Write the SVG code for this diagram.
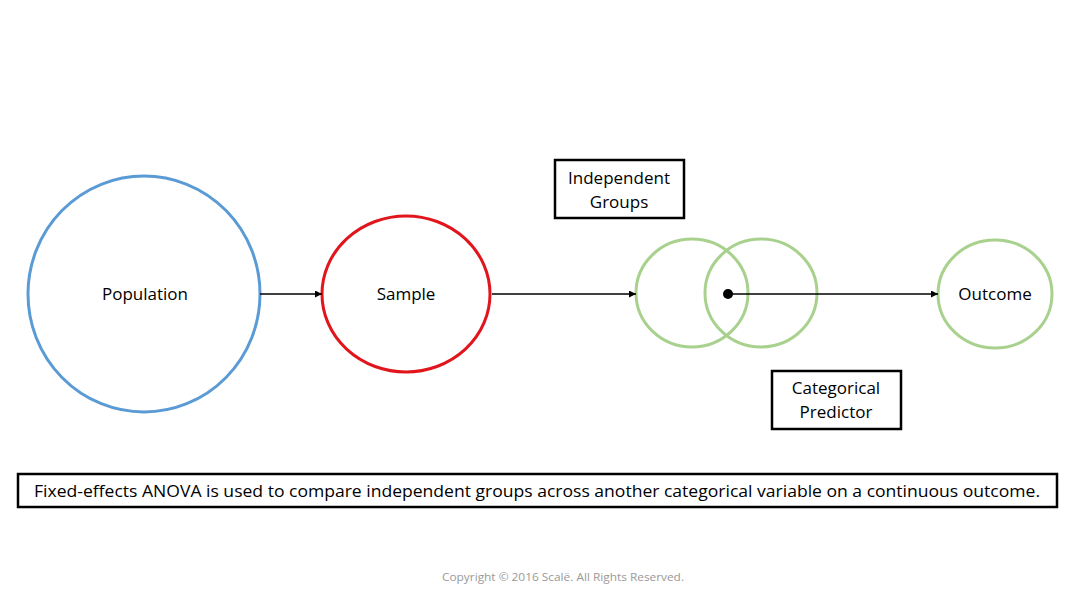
<svg xmlns="http://www.w3.org/2000/svg" width="1080" height="607" viewBox="0 0 1080 607">
<style>
text{font-family:"Open Sans","Liberation Sans",sans-serif;fill:#000;text-anchor:middle}
.lbl{font-size:17px}
.box{fill:#fff;stroke:#000;stroke-width:2.5}
.g{fill:none;stroke:#a9d18e;stroke-width:3}
.c{stroke:#000;stroke-width:1.5;fill:none;marker-end:url(#ah)}
</style>
<defs><marker id="ah" viewBox="0 0 10 10" refX="10" refY="5" markerWidth="7" markerHeight="7" markerUnits="userSpaceOnUse" orient="auto"><path d="M0,0L10,5L0,10z" fill="#000"/></marker></defs>
<rect width="1080" height="607" fill="#fff"/>
<g id="population"><ellipse cx="144" cy="294" rx="116" ry="118" fill="none" stroke="#5b9bd5" stroke-width="3"/><text class="lbl" x="145" y="300">Population</text></g>
<g id="sample"><ellipse cx="406" cy="294" rx="84" ry="78" fill="none" stroke="#e0161c" stroke-width="3"/><text class="lbl" x="406" y="300">Sample</text></g>
<g id="groups"><ellipse class="g" cx="692" cy="293" rx="56" ry="54"/><ellipse class="g" cx="761" cy="293" rx="56" ry="54"/><circle cx="728" cy="294" r="5" fill="#000"/></g>
<g id="outcome"><ellipse class="g" cx="995" cy="294" rx="57" ry="54"/><text class="lbl" x="995" y="300">Outcome</text></g>
<g id="indep"><rect class="box" x="555" y="160" width="129" height="58"/><text class="lbl" x="619" y="184">Independent</text><text class="lbl" x="619" y="208">Groups</text></g>
<g id="catpred"><rect class="box" x="772" y="371" width="129" height="58"/><text class="lbl" x="836" y="394">Categorical</text><text class="lbl" x="836" y="418">Predictor</text></g>
<g id="connectors"><line class="c" x1="260" y1="294" x2="322" y2="294"/><line class="c" x1="492" y1="294" x2="636" y2="294"/><line class="c" x1="728" y1="294" x2="938" y2="294"/></g>
<g id="note"><rect class="box" x="18" y="474" width="1039" height="33"/><text x="537" y="497" font-size="16" textLength="1006" lengthAdjust="spacingAndGlyphs">Fixed-effects ANOVA is used to compare independent groups across another categorical variable on a continuous outcome.</text></g>
<text x="563" y="581" font-size="11" style="fill:#999" textLength="242" lengthAdjust="spacingAndGlyphs">Copyright © 2016 Scalë. All Rights Reserved.</text>
</svg>
